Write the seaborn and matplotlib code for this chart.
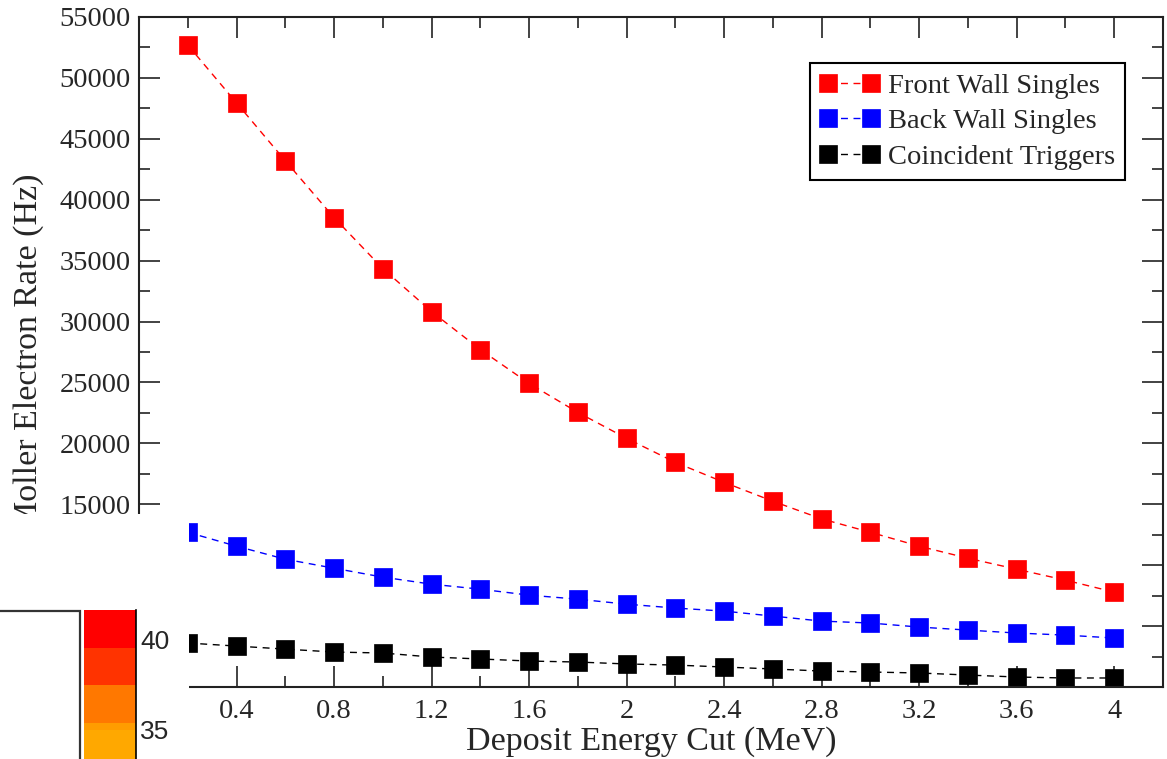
import numpy as np
import pandas as pd
import matplotlib
matplotlib.use("Agg")
import matplotlib.pyplot as plt
from matplotlib.ticker import MultipleLocator, FormatStrFormatter
from matplotlib.colors import ListedColormap, BoundaryNorm
from matplotlib.patches import Rectangle
import seaborn as sns

# ---- data -----------------------------------------------------------------
energy_cut = [0.2, 0.4, 0.6, 0.8, 1.0, 1.2, 1.4, 1.6, 1.8, 2.0,
              2.2, 2.4, 2.6, 2.8, 3.0, 3.2, 3.4, 3.6, 3.8, 4.0]
front_wall = [52700, 47950, 43200, 38530, 34350, 30820, 27700, 24920, 22540, 20410,
              18440, 16800, 15250, 13800, 12700, 11560, 10570, 9670, 8770, 7790]
back_wall = [12700, 11560, 10490, 9750, 9020, 8440, 8030, 7540, 7210, 6800,
             6480, 6230, 5820, 5410, 5250, 4920, 4670, 4430, 4260, 4020]
coincident = [3610, 3360, 3110, 2870, 2790, 2460, 2300, 2130, 2050, 1890,
              1800, 1640, 1480, 1310, 1230, 1150, 980, 820, 740, 740]
series_names = ["Front Wall Singles", "Back Wall Singles", "Coincident Triggers"]
series_colors = ["#ff0000", "#0000ff", "#000000"]

# colour scale fragment in the lower-left inset
band_edges = [33.0, 35.0, 35.4, 37.45, 39.5, 41.7]
band_colors = ["#ffa800", "#ff9c00", "#ff7800", "#ff3300", "#ff0000"]
scale_ticks = [35, 40]

# ---- style ----------------------------------------------------------------
sns.set_style("ticks")
plt.rcParams["font.family"] = ["Liberation Serif", "DejaVu Serif"]
plt.rcParams["axes.linewidth"] = 1.5

W, H = 1167, 759
fig = plt.figure(figsize=(W / 100, H / 100), dpi=100)
fig.patch.set_facecolor("white")

ax = fig.add_axes([139 / W, 1 - 687 / H, 1024 / W, 670 / H])

df = pd.DataFrame({
    "cut": energy_cut * 3,
    "rate": front_wall + back_wall + coincident,
    "series": np.repeat(series_names, len(energy_cut)),
})

for name, col in zip(series_names, series_colors):
    sub = df[df["series"] == name]
    sns.lineplot(data=sub, x="cut", y="rate", ax=ax, color=col,
                 marker="s", markersize=13, markeredgecolor=col,
                 markeredgewidth=0.5, linewidth=1.0,
                 linestyle=(0, (5, 4)), label=name)

ax.set_xlim(0, 4.2)
ax.set_ylim(0, 55000)
ax.xaxis.set_major_locator(MultipleLocator(0.4))
ax.xaxis.set_minor_locator(MultipleLocator(0.2))
ax.xaxis.set_major_formatter(FormatStrFormatter("%g"))
ax.yaxis.set_major_locator(MultipleLocator(5000))
ax.yaxis.set_minor_locator(MultipleLocator(2500))
ax.yaxis.set_major_formatter(FormatStrFormatter("%d"))

ax.tick_params(which="both", direction="in", top=True, right=True,
               width=1.2, color="#222222", labelsize=20.5)
ax.tick_params(which="major", length=15)
ax.tick_params(which="minor", length=8)
ax.tick_params(axis="x", pad=9)
ax.tick_params(axis="y", pad=6)
for s in ax.spines.values():
    s.set_color("#222222")

ax.set_xlabel("Deposit Energy Cut (MeV)", fontsize=24.5)
ax.xaxis.set_label_coords(0.5, -0.058)
ax.set_ylabel("Moller Electron Rate (Hz)", fontsize=24.5)
ax.yaxis.set_label_coords(-0.093, 0.5)

leg = ax.legend(loc="upper right", bbox_to_anchor=(0.963, 0.931),
                borderaxespad=0, fontsize=20.5, frameon=True, fancybox=False,
                numpoints=2, handlelength=2.1, handletextpad=0.3,
                labelspacing=0.33, borderpad=0.35)
leg.get_frame().set_edgecolor("black")
leg.get_frame().set_linewidth(1.5)
leg.get_frame().set_alpha(1)

# ---- inset panel in the lower-left corner ----------------------------------
ov = fig.add_axes([0, 0, 189 / W, (H - 514) / H], zorder=10)
ov.set_facecolor("white")
ov.set_xlim(0, 189)
ov.set_ylim(H, 514)
ov.set_xticks([])
ov.set_yticks([])
for s in ov.spines.values():
    s.set_visible(False)
ov.add_patch(Rectangle((-20, 611), 100, 200, fill=False,
                       edgecolor="#333333", linewidth=1.6))

cax = fig.add_axes([84 / W, 0, 52 / W, (H - 610) / H], zorder=11)
cmap = ListedColormap(band_colors)
norm = BoundaryNorm(band_edges, cmap.N)
centers = [(a + b) / 2 for a, b in zip(band_edges[:-1], band_edges[1:])]
cax.pcolormesh([0, 1], band_edges, np.array(centers)[:, None], cmap=cmap, norm=norm)
cax.set_xlim(0, 1)
cax.set_ylim(33.4, 41.6)
cax.set_xticks([])
cax.yaxis.tick_right()
cax.set_yticks(scale_ticks)
cax.set_yticklabels([str(t) for t in scale_ticks],
                    family=["Liberation Sans", "DejaVu Sans"])
cax.tick_params(axis="y", direction="in", length=19, width=1.2,
                color="black", labelsize=19, pad=3)
for side in ["left", "top", "bottom"]:
    cax.spines[side].set_visible(False)
cax.spines["right"].set_color("black")
cax.spines["right"].set_linewidth(1.2)

fig.savefig("out.png", dpi=100, facecolor="white")
